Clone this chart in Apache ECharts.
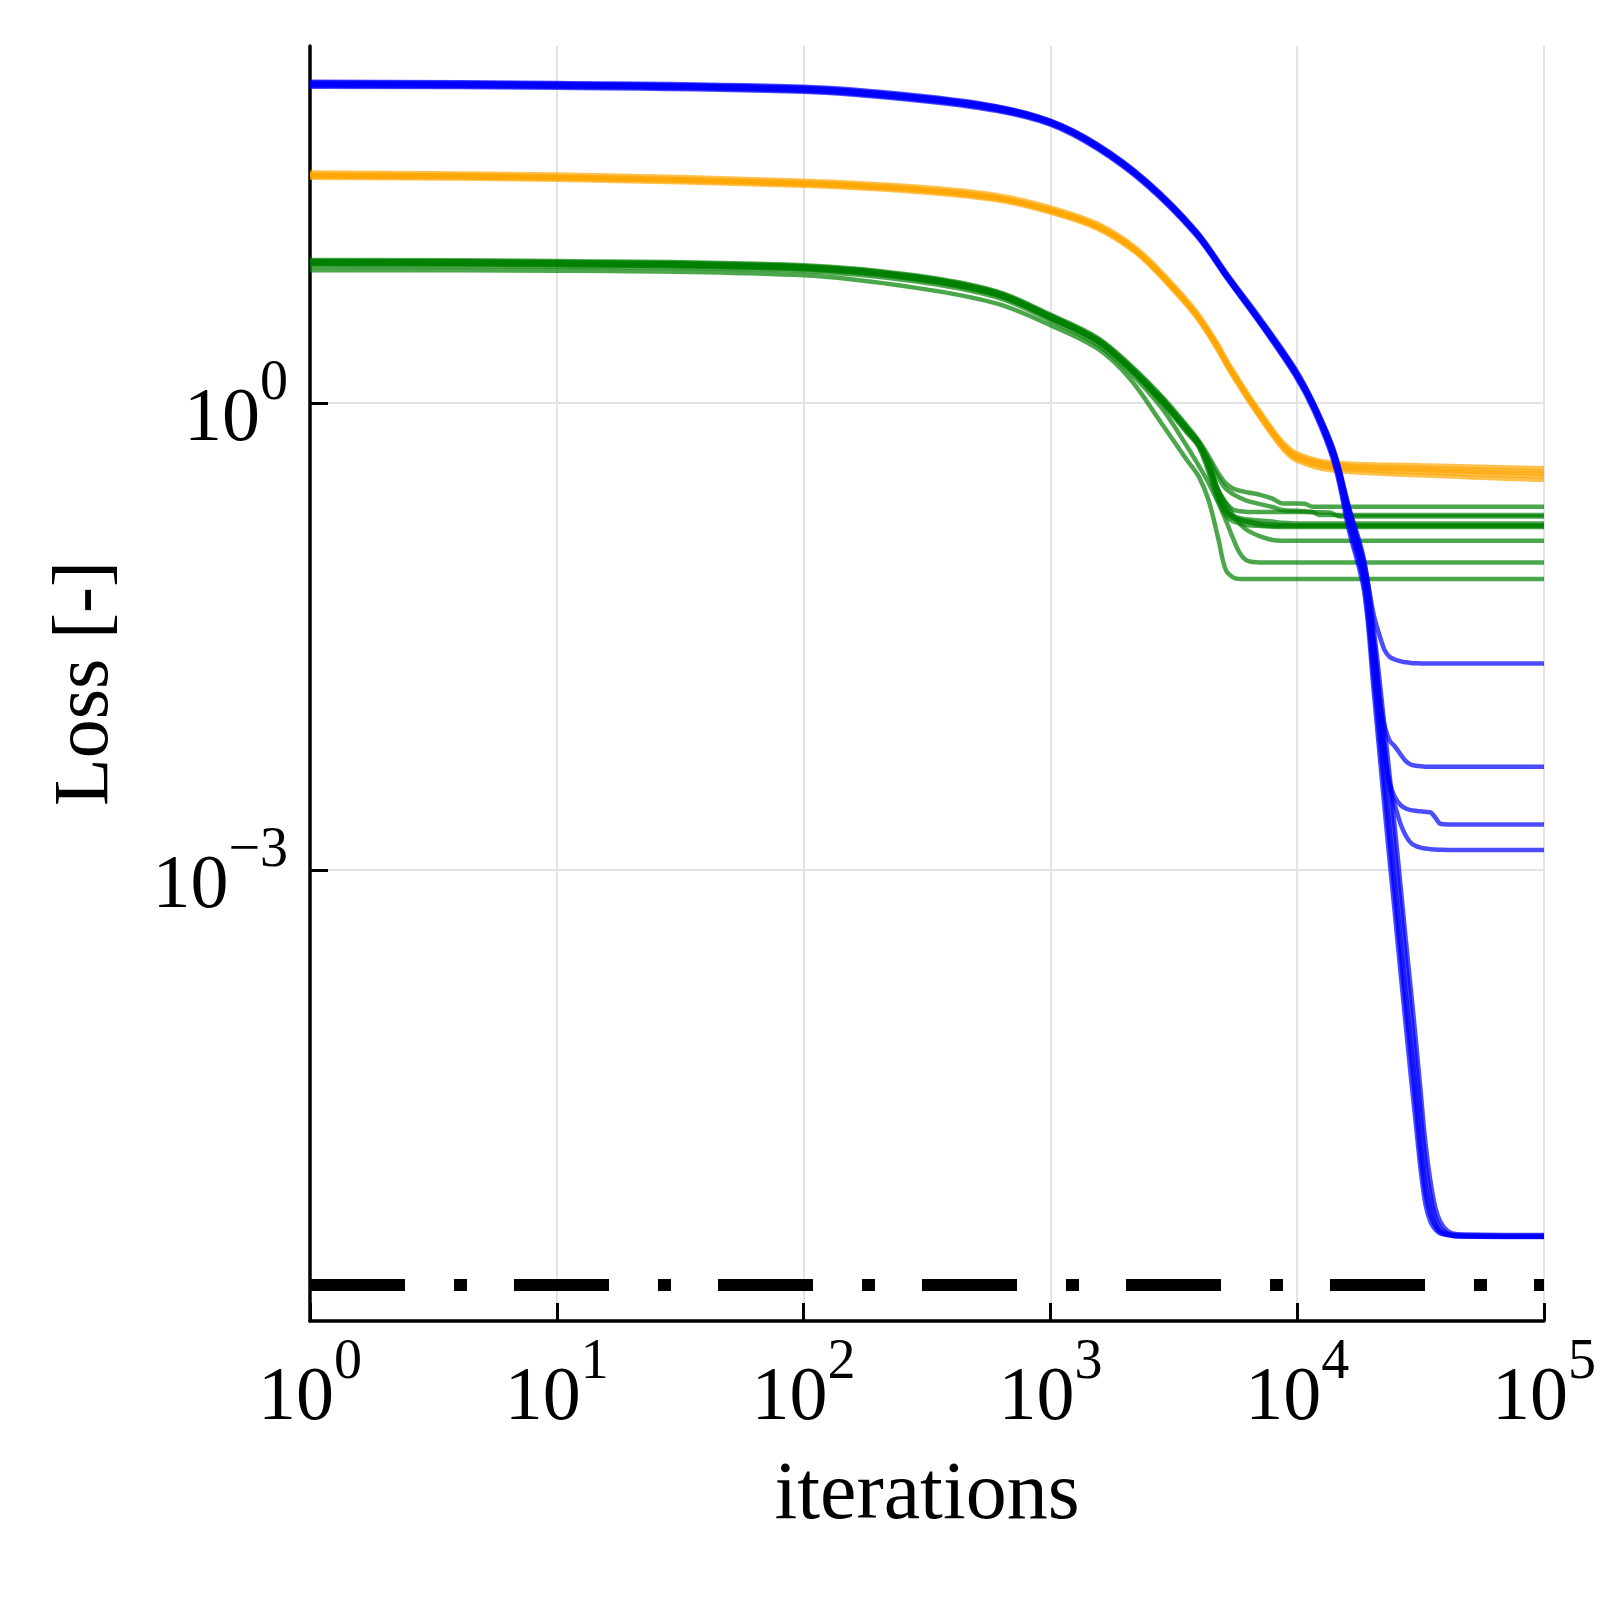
<!DOCTYPE html>
<html><head><meta charset="utf-8">
<script src="https://cdn.jsdelivr.net/npm/echarts@6/dist/echarts.min.js"></script>
<style>html,body{margin:0;padding:0;background:#fff}#c{width:1599px;height:1600px}</style>
</head><body><div id="c"></div>
<script>
// All values are log10 values (x = log10(iterations), y = log10(loss)).
const xTickExps = [0, 1, 2, 3, 4, 5];
const yTickExps = [-3, 0];
const referenceLevel = -5.666;   // dash-dot black line

const blueX = [0, 1, 2, 2.45, 2.78, 3.0, 3.19, 3.39, 3.59, 3.72, 3.86, 3.99, 4.07, 4.15, 4.21, 4.27, 4.31, 4.335, 4.355, 4.375, 4.395, 4.42, 4.44, 4.46, 4.48, 4.50, 4.52, 4.54, 4.56, 4.58, 4.61, 4.65, 5.0];
const blueRuns = [
  [2.045, 2.038, 2.012, 1.958, 1.89, 1.80, 1.645, 1.41, 1.09, 0.80, 0.50, 0.20, -0.035, -0.35, -0.76, -1.12, -1.70, -2.10, -2.42, -2.74, -3.06, -3.47, -3.79, -4.09, -4.40, -4.74, -5.01, -5.17, -5.27, -5.32, -5.34, -5.35, -5.354],
  [2.058, 2.051, 2.025, 1.971, 1.903, 1.81, 1.657, 1.422, 1.102, 0.81, 0.512, 0.215, -0.02, -0.325, -0.70, -1.04, -1.52, -1.90, -2.22, -2.52, -2.86, -3.25, -3.58, -3.90, -4.22, -4.56, -4.88, -5.09, -5.23, -5.30, -5.335, -5.345, -5.35],
  [2.032, 2.025, 1.999, 1.945, 1.877, 1.788, 1.632, 1.397, 1.077, 0.79, 0.485, 0.18, -0.06, -0.39, -0.82, -1.20, -1.85, -2.28, -2.62, -2.95, -3.27, -3.68, -4.00, -4.32, -4.62, -4.92, -5.15, -5.26, -5.31, -5.335, -5.345, -5.355, -5.358],
  [2.064, 2.056, 2.031, 1.977, 1.907, 1.814, 1.663, 1.428, 1.108, 0.82, 0.522, 0.225, -0.01, -0.31, -0.67, -1.00, -1.45, -1.80, -2.10, -2.40, -2.72, -3.12, -3.45, -3.76, -4.08, -4.42, -4.76, -5.00, -5.17, -5.26, -5.32, -5.34, -5.345],
  [2.038, 2.031, 2.005, 1.951, 1.883, 1.794, 1.64, 1.405, 1.085, 0.795, 0.493, 0.19, -0.045, -0.37, -0.79, -1.16, -1.77, -2.18, -2.50, -2.83, -3.15, -3.56, -3.88, -4.19, -4.50, -4.83, -5.08, -5.22, -5.29, -5.33, -5.343, -5.352, -5.356],
  [2.05, 2.043, 2.017, 1.963, 1.895, 1.805, 1.65, 1.415, 1.095, 0.81, 0.51, 0.21, -0.02, -0.32, -0.68, -1.02, -1.36, -1.50, -1.59, -1.632, -1.648, -1.66, -1.666, -1.67, -1.672, -1.673, -1.674, -1.674, -1.674, -1.674, -1.674, -1.674, -1.674],
  [2.048, 2.041, 2.015, 1.961, 1.893, 1.803, 1.648, 1.413, 1.093, 0.805, 0.505, 0.205, -0.03, -0.34, -0.72, -1.07, -1.56, -1.92, -2.08, -2.17, -2.205, -2.26, -2.30, -2.322, -2.33, -2.334, -2.336, -2.336, -2.336, -2.336, -2.336, -2.336, -2.336],
  [2.054, 2.047, 2.021, 1.967, 1.899, 1.807, 1.653, 1.418, 1.098, 0.808, 0.508, 0.208, -0.025, -0.33, -0.70, -1.06, -1.55, -1.95, -2.28, -2.44, -2.53, -2.585, -2.605, -2.615, -2.62, -2.623, -2.626, -2.63, -2.665, -2.703, -2.707, -2.707, -2.707],
  [2.042, 2.035, 2.009, 1.955, 1.887, 1.797, 1.642, 1.408, 1.088, 0.798, 0.495, 0.195, -0.04, -0.36, -0.74, -1.09, -1.62, -2.00, -2.25, -2.47, -2.58, -2.71, -2.78, -2.825, -2.845, -2.856, -2.862, -2.866, -2.869, -2.87, -2.871, -2.871, -2.871]
];

const orangeX = [0, 1, 2, 2.45, 2.78, 3.0, 3.19, 3.35, 3.48, 3.59, 3.67, 3.72, 3.76, 3.80, 3.86, 3.90, 3.95, 4.0, 4.13, 4.5, 5.0];
const orangeRuns = [
  [1.462, 1.449, 1.41, 1.372, 1.318, 1.238, 1.135, 0.975, 0.77, 0.57, 0.38, 0.24, 0.14, 0.04, -0.10, -0.19, -0.29, -0.35, -0.405, -0.43, -0.455],
  [1.48, 1.467, 1.428, 1.39, 1.336, 1.256, 1.152, 0.992, 0.79, 0.59, 0.40, 0.258, 0.158, 0.058, -0.08, -0.17, -0.265, -0.325, -0.38, -0.40, -0.42],
  [1.447, 1.434, 1.395, 1.357, 1.303, 1.223, 1.12, 0.96, 0.755, 0.555, 0.362, 0.222, 0.12, 0.02, -0.12, -0.21, -0.31, -0.372, -0.43, -0.465, -0.495],
  [1.455, 1.442, 1.404, 1.366, 1.311, 1.231, 1.128, 0.968, 0.763, 0.562, 0.37, 0.232, 0.13, 0.03, -0.11, -0.2, -0.30, -0.36, -0.415, -0.445, -0.472],
  [1.468, 1.455, 1.416, 1.378, 1.324, 1.244, 1.141, 0.98, 0.776, 0.576, 0.386, 0.247, 0.147, 0.047, -0.09, -0.18, -0.28, -0.338, -0.393, -0.418, -0.44]
];

const greenX = [0, 1, 2, 2.45, 2.78, 3.0, 3.19, 3.32, 3.45, 3.55, 3.6, 3.64, 3.68, 3.71, 3.74, 3.77, 3.80, 3.85, 3.90, 3.94, 4.0, 4.03, 4.06, 4.09, 4.13, 4.17, 4.2, 5.0];
const greenRuns = [
  [0.918, 0.912, 0.885, 0.82, 0.718, 0.568, 0.42, 0.25, 0.045, -0.14, -0.24, -0.34, -0.45, -0.515, -0.55, -0.565, -0.575, -0.59, -0.615, -0.645, -0.645, -0.647, -0.666, -0.666, -0.666, -0.666, -0.666, -0.666],
  [0.912, 0.906, 0.879, 0.814, 0.712, 0.561, 0.412, 0.24, 0.035, -0.15, -0.25, -0.36, -0.48, -0.55, -0.585, -0.61, -0.63, -0.65, -0.668, -0.687, -0.693, -0.696, -0.698, -0.72, -0.72, -0.72, -0.72, -0.72],
  [0.9, 0.894, 0.867, 0.802, 0.70, 0.55, 0.40, 0.228, 0.02, -0.165, -0.26, -0.40, -0.56, -0.64, -0.685, -0.695, -0.70, -0.70, -0.70, -0.70, -0.701, -0.701, -0.702, -0.702, -0.703, -0.728, -0.73, -0.73],
  [0.906, 0.9, 0.873, 0.808, 0.706, 0.554, 0.405, 0.233, 0.025, -0.16, -0.25, -0.39, -0.57, -0.68, -0.725, -0.74, -0.748, -0.755, -0.762, -0.77, -0.775, -0.775, -0.775, -0.775, -0.775, -0.775, -0.775, -0.775],
  [0.896, 0.89, 0.863, 0.798, 0.696, 0.545, 0.396, 0.222, 0.012, -0.175, -0.27, -0.42, -0.60, -0.69, -0.73, -0.75, -0.76, -0.775, -0.78, -0.784, -0.785, -0.785, -0.785, -0.785, -0.785, -0.785, -0.785, -0.785],
  [0.902, 0.896, 0.869, 0.804, 0.702, 0.55, 0.40, 0.228, 0.018, -0.168, -0.26, -0.40, -0.58, -0.70, -0.74, -0.755, -0.765, -0.784, -0.79, -0.79, -0.79, -0.79, -0.79, -0.79, -0.79, -0.79, -0.79, -0.79],
  [0.892, 0.886, 0.859, 0.795, 0.693, 0.542, 0.392, 0.218, 0.005, -0.185, -0.28, -0.44, -0.63, -0.72, -0.76, -0.775, -0.785, -0.79, -0.795, -0.797, -0.797, -0.797, -0.797, -0.797, -0.797, -0.797, -0.797, -0.797],
  [0.91, 0.904, 0.877, 0.812, 0.709, 0.557, 0.405, 0.23, 0.02, -0.17, -0.27, -0.38, -0.56, -0.64, -0.72, -0.78, -0.82, -0.857, -0.88, -0.885, -0.885, -0.885, -0.885, -0.885, -0.885, -0.885, -0.885, -0.885],
  [0.88, 0.875, 0.848, 0.782, 0.68, 0.53, 0.375, 0.20, -0.03, -0.27, -0.40, -0.51, -0.64, -0.75, -0.87, -0.97, -1.015, -1.024, -1.024, -1.024, -1.024, -1.024, -1.024, -1.024, -1.024, -1.024, -1.024, -1.024],
  [0.853, 0.85, 0.82, 0.741, 0.64, 0.50, 0.35, 0.16, -0.13, -0.36, -0.47, -0.62, -0.87, -1.07, -1.12, -1.13, -1.13, -1.13, -1.13, -1.13, -1.13, -1.13, -1.13, -1.13, -1.13, -1.13, -1.13, -1.13]
];

const FONT = 'Liberation Serif';
const BLUE = 'rgba(0,0,255,0.7)';
const ORANGE = 'rgba(255,165,0,0.7)';
const GREEN = 'rgba(0,128,0,0.7)';

function family(xs, runs, color, name, z) {
  return runs.map(function (ys) {
    return {
      type: 'line', name: name, z: z,
      data: xs.map(function (x, j) { return [x, ys[j]]; }),
      showSymbol: false, symbol: 'none',
      smooth: 0.35,
      lineStyle: { width: 4.5, color: color },
      silent: true, animation: false
    };
  });
}

function powLabel(v) {
  const e = Math.round(v);
  const s = e < 0 ? '\u2212' + (-e) : String(e);
  return '{b|10}{s|' + s + '}';
}
const labelRich = {
  b: { fontFamily: FONT, fontSize: 76, lineHeight: 76, color: '#000', verticalAlign: 'bottom' },
  s: { fontFamily: FONT, fontSize: 56, lineHeight: 56, color: '#000', verticalAlign: 'bottom', padding: [0, 0, 46, 0] }
};

const series = []
  .concat(family(greenX, greenRuns, GREEN, 'green', 2))
  .concat(family(orangeX, orangeRuns, ORANGE, 'orange', 3))
  .concat(family(blueX, blueRuns, BLUE, 'blue', 4));
series.push({
  type: 'line', name: 'reference', z: 5,
  data: [[0, referenceLevel], [5, referenceLevel]],
  showSymbol: false, symbol: 'none', silent: true, animation: false,
  lineStyle: { color: '#000', width: 12, type: [95, 49, 13, 47], cap: 'butt' }
});

const chart = echarts.init(document.getElementById('c'), null, { renderer: 'canvas' });
chart.setOption({
  animation: false,
  backgroundColor: '#fff',
  grid: { left: 310, right: 49, top: 46, bottom: 279, containLabel: false },
  xAxis: {
    type: 'value', min: 0, max: 5, interval: 1,
    name: 'iterations', nameLocation: 'middle', nameGap: 134,
    nameTextStyle: { fontFamily: FONT, fontSize: 82, color: '#000' },
    axisLine: { show: true, onZero: false, lineStyle: { color: '#000', width: 3.5 } },
    axisTick: { show: true, inside: true, length: 18, customValues: xTickExps, lineStyle: { color: '#000', width: 3 } },
    axisLabel: { show: true, margin: 40, customValues: xTickExps, formatter: powLabel, rich: labelRich },
    splitLine: { show: true, lineStyle: { color: '#e3e3e3', width: 2 } }
  },
  yAxis: {
    type: 'value', min: -5.897, max: 2.293,
    name: 'Loss [-]', nameLocation: 'middle', nameGap: 184, nameRotate: 90,
    nameTextStyle: { fontFamily: FONT, fontSize: 78, color: '#000' },
    axisLine: { show: true, onZero: false, lineStyle: { color: '#000', width: 3.5 } },
    axisTick: { show: true, inside: true, length: 18, customValues: yTickExps, lineStyle: { color: '#000', width: 3 } },
    axisLabel: { show: true, margin: 22, padding: [34, 0, 0, 0], customValues: yTickExps, formatter: powLabel, rich: labelRich },
    splitLine: { show: true, lineStyle: { color: '#e3e3e3', width: 2 } }
  },
  series: series
});
</script>
</body></html>
